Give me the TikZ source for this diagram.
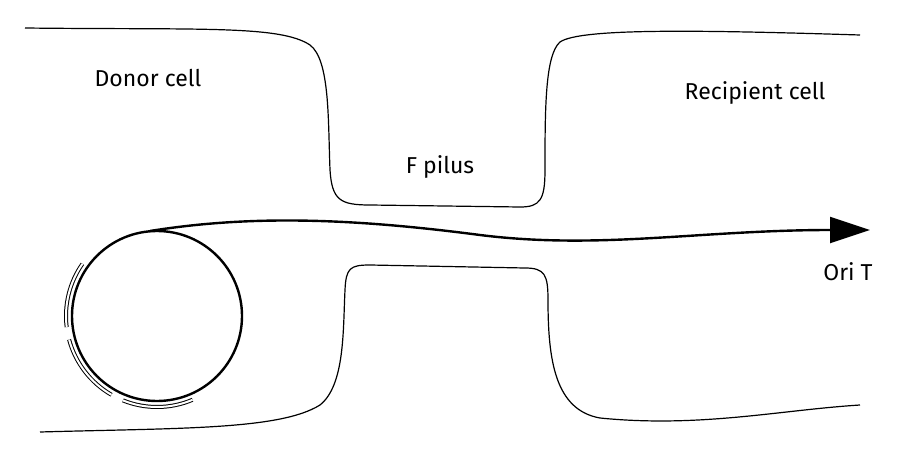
\documentclass[tikz,border=0pt]{standalone}
\usepackage{fontspec}
\setmainfont{Fira Sans}
\usetikzlibrary{arrows.meta}
\begin{document}
\begin{tikzpicture}[x=1pt,y=-1pt,
  wall/.style={line width=1.2pt},
  lbl/.style={font=\fontsize{23}{26}\selectfont},
  seg/.style={line width=4pt,draw=black}]
\useasboundingbox (0,0) rectangle (900,460);
% cell outlines
\draw[wall] (25,28) .. controls (200,30) and (280,25) .. (310,45)
  .. controls (330,60) and (328,120) .. (330,170)
  .. controls (332,200) and (340,205) .. (370,205) -- (520,207)
  .. controls (540,207) and (545,200) .. (545,170)
  .. controls (545,110) and (545,55) .. (560,42)
  .. controls (580,28) and (700,30) .. (860,35);
\draw[wall] (40,432) .. controls (180,428) and (280,430) .. (320,405)
  .. controls (345,385) and (343,330) .. (345,290)
  .. controls (346,268) and (350,265) .. (370,265) -- (525,268)
  .. controls (545,268) and (548,275) .. (548,300)
  .. controls (548,360) and (555,410) .. (600,418)
  .. controls (700,428) and (780,410) .. (860,405);
% plasmid
\coordinate (c) at (157,316);
\draw[line width=2.4pt] (c) circle[radius=85];
\foreach \a/\b in {145/187,195/240,248/293}{
  \draw[seg] ([shift={(-\a:91)}]c) arc[start angle=-\a,end angle=-\b,radius=91];
  \draw[line width=2pt,white] ([shift={(-\a:91)}]c) arc[start angle=-\a,end angle=-\b,radius=91];
}
% strand
\coordinate (ori) at (870,230);
\draw[line width=2.4pt,-{Triangle[length=40pt,width=26pt]}]
  (150,231) .. controls (250,215) and (350,218) .. (480,235)
  .. controls (600,250) and (700,230) .. (ori);
% labels
\node[lbl] (donor) at (148,78) {Donor cell};
\node[lbl] (pilus) at (440,167) {F pilus};
\node[lbl] (recip) at (755,93) {Recipient cell};
\node[lbl] (orit) at (848,272) {Ori T};
\end{tikzpicture}
\end{document}
